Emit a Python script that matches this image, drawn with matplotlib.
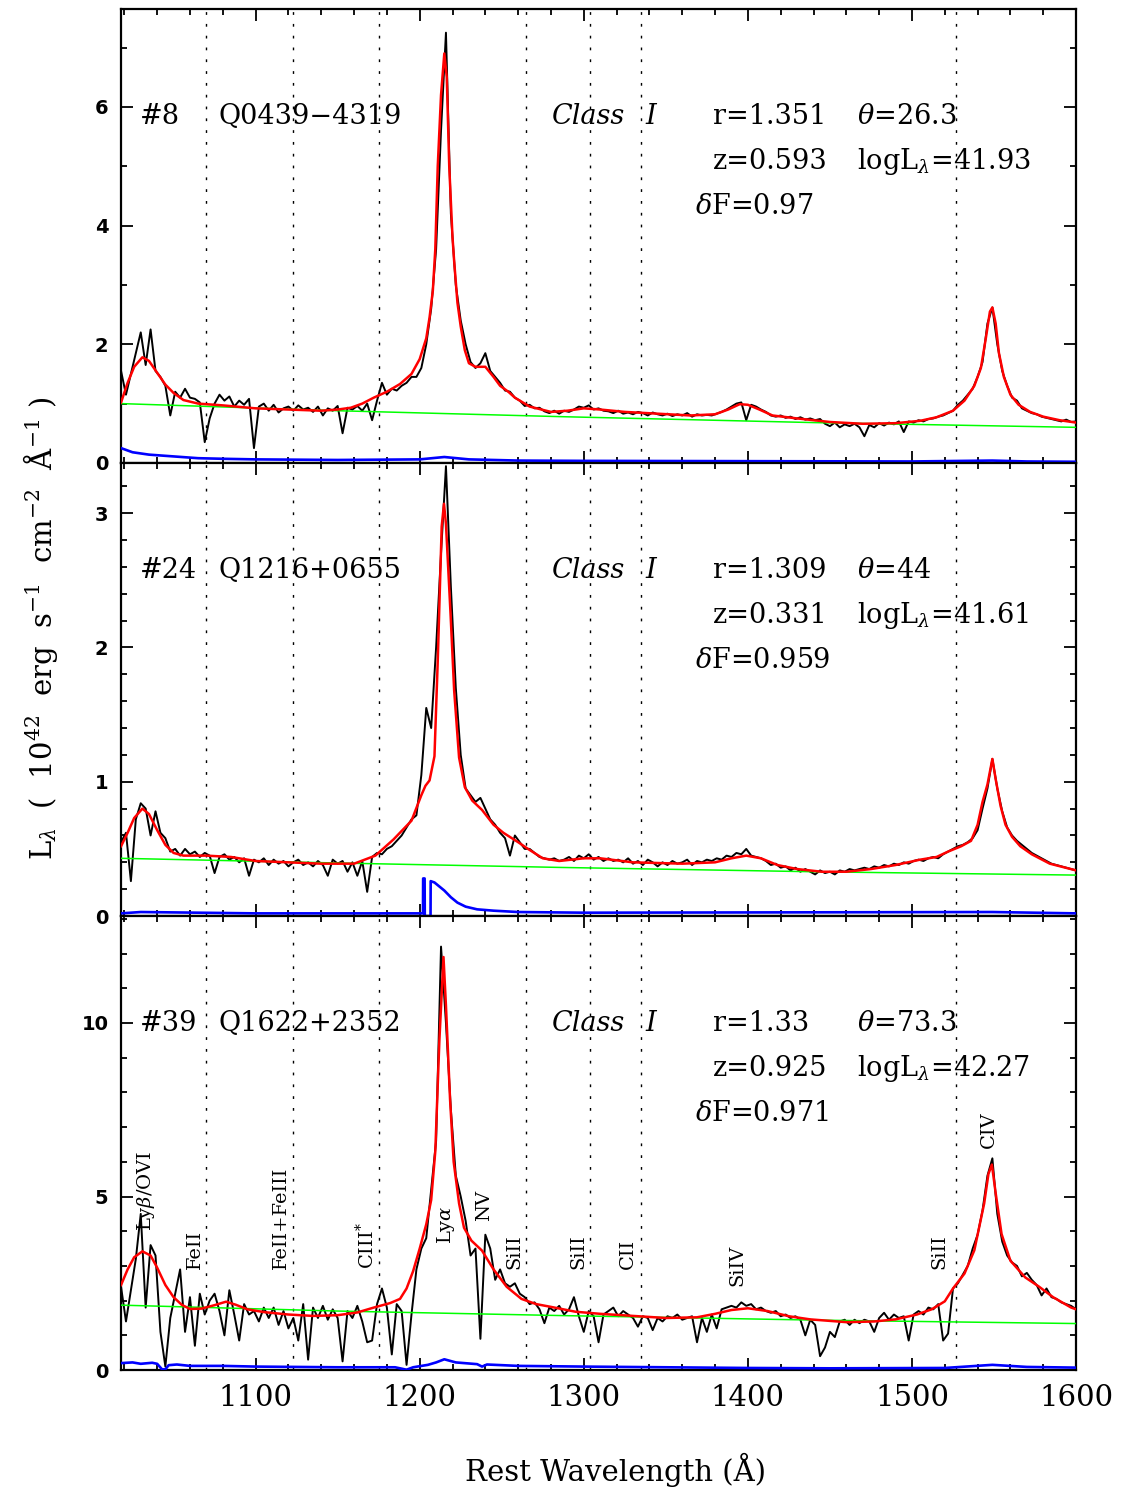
import numpy as np
import matplotlib
matplotlib.use("Agg")
import matplotlib.pyplot as plt
from matplotlib.ticker import MultipleLocator

plt.rcParams['mathtext.fontset'] = 'dejavuserif'

# rest wavelength grid of the observed spectra (3 A bins)
wave = np.arange(1018, 1601, 3)

# ---- #8  Q0439-4319 ----
flux_8 = [
    1.55, 1.15, 1.5, 1.85, 2.2, 1.65, 2.25, 1.55, 1.45, 1.3,
    0.8, 1.2, 1.1, 1.25, 1.1, 1.08, 1.02, 0.35, 0.75, 1.0,
    1.15, 1.05, 1.12, 0.95, 1.05, 0.98, 1.08, 0.25, 0.95, 1.0,
    0.88, 0.98, 0.85, 0.92, 0.95, 0.88, 0.97, 0.9, 0.93, 0.86,
    0.95, 0.8, 0.92, 0.88, 0.96, 0.5, 0.93, 0.9, 0.96, 0.88,
    1.0, 0.72, 1.05, 1.35, 1.15, 1.25, 1.22, 1.3, 1.35, 1.45,
    1.45, 1.6, 2.0, 2.6, 3.6, 5.6, 7.25, 4.2, 3.0, 2.4,
    2.0, 1.7, 1.6, 1.68, 1.85, 1.55, 1.45, 1.35, 1.22, 1.2,
    1.1, 1.05, 0.96, 0.98, 0.92, 0.93, 0.87, 0.84, 0.88, 0.83,
    0.88, 0.86, 0.9, 0.95, 0.93, 0.97, 0.9, 0.92, 0.88, 0.87,
    0.84, 0.88, 0.83, 0.85, 0.82, 0.86, 0.84, 0.8, 0.85, 0.82,
    0.8, 0.83, 0.79, 0.82, 0.8, 0.84, 0.78, 0.82, 0.8, 0.81,
    0.8, 0.83, 0.86, 0.9, 0.95, 1.0, 1.02, 0.72, 0.98, 0.95,
    0.9, 0.86, 0.8, 0.78, 0.8, 0.76, 0.78, 0.74, 0.77, 0.73,
    0.75, 0.72, 0.74, 0.66, 0.62, 0.68, 0.6, 0.65, 0.62, 0.66,
    0.6, 0.45, 0.64, 0.6, 0.67, 0.63, 0.68, 0.65, 0.7, 0.52,
    0.7, 0.68, 0.72, 0.7, 0.74, 0.75, 0.78, 0.8, 0.84, 0.88,
    0.98, 1.05, 1.15, 1.25, 1.45, 1.7, 2.35, 2.62, 2.0, 1.55,
    1.3, 1.1, 1.05, 0.92, 0.88, 0.84, 0.82, 0.78, 0.76, 0.74,
    0.72, 0.7, 0.73, 0.69, 0.7]
w_fit_8 = [1018, 1022, 1026, 1031, 1035, 1040, 1045, 1050, 1056, 1065,
           1080, 1100, 1120, 1140, 1150, 1158, 1165, 1172, 1180, 1188,
           1195, 1200, 1204, 1206, 1208, 1209.5, 1211, 1213, 1215, 1216.5,
           1218, 1220, 1221, 1223, 1225, 1227.5, 1230, 1234, 1240, 1245,
           1249, 1254, 1258, 1267, 1280, 1290, 1300, 1310, 1325, 1345,
           1365, 1380, 1388, 1395, 1400, 1407, 1415, 1430, 1450, 1470,
           1490, 1505, 1515, 1525, 1532, 1538, 1542, 1545, 1547.5, 1549,
           1551, 1553, 1556, 1560, 1565, 1572, 1580, 1590, 1600]
f_fit_8 = [1.02, 1.35, 1.62, 1.78, 1.72, 1.52, 1.32, 1.18, 1.06, 1.0,
           0.97, 0.92, 0.9, 0.88, 0.9, 0.93, 1.0, 1.1, 1.2, 1.33,
           1.5, 1.75, 2.1, 2.45, 2.9, 3.6, 5.0, 6.2, 6.9, 6.5,
           5.0, 3.8, 3.4, 2.7, 2.3, 1.9, 1.68, 1.62, 1.62, 1.45,
           1.3, 1.2, 1.1, 0.95, 0.86, 0.88, 0.92, 0.9, 0.86, 0.83,
           0.8, 0.82, 0.9, 0.99, 0.98, 0.9, 0.8, 0.75, 0.69, 0.66,
           0.67, 0.71, 0.77, 0.88, 1.05, 1.3, 1.6, 2.1, 2.55, 2.62,
           2.35, 1.85, 1.45, 1.15, 0.98, 0.86, 0.78, 0.72, 0.68]
err_w_8 = [1018, 1025, 1035, 1045, 1055, 1065, 1080, 1100, 1150, 1200,
           1215, 1230, 1260, 1300, 1400, 1500, 1549, 1570, 1600]
err_8 = [0.25, 0.18, 0.14, 0.12, 0.1, 0.08, 0.07, 0.06, 0.05, 0.06,
         0.1, 0.06, 0.04, 0.035, 0.03, 0.025, 0.04, 0.025, 0.02]

# ---- #24  Q1216+0655 ----
flux_24 = [
    0.55, 0.62, 0.26, 0.72, 0.84, 0.8, 0.6, 0.78, 0.62, 0.58,
    0.48, 0.5, 0.45, 0.5, 0.46, 0.48, 0.44, 0.47, 0.45, 0.32,
    0.44, 0.46, 0.42, 0.44, 0.4, 0.43, 0.3, 0.42, 0.4, 0.43,
    0.38, 0.42, 0.39, 0.41, 0.37, 0.4, 0.42, 0.38, 0.4, 0.37,
    0.41, 0.38, 0.3, 0.42, 0.39, 0.41, 0.33, 0.4, 0.3, 0.41,
    0.18, 0.44, 0.47, 0.46, 0.5, 0.52, 0.56, 0.6, 0.66, 0.72,
    0.75, 1.05, 1.55, 1.4, 2.0, 2.7, 3.35, 2.45, 1.7, 1.2,
    0.95, 0.9, 0.85, 0.88, 0.8, 0.72, 0.68, 0.62, 0.58, 0.45,
    0.6, 0.55, 0.5, 0.5, 0.47, 0.44, 0.43, 0.42, 0.43, 0.41,
    0.42, 0.44, 0.41, 0.45, 0.43, 0.46, 0.42, 0.44, 0.41, 0.43,
    0.41, 0.42, 0.4, 0.43, 0.39, 0.41, 0.38, 0.42, 0.4, 0.37,
    0.4, 0.38, 0.41, 0.39, 0.4, 0.42, 0.38, 0.41, 0.4, 0.42,
    0.41, 0.43, 0.42, 0.45, 0.44, 0.47, 0.46, 0.5, 0.45, 0.44,
    0.43, 0.41, 0.38, 0.39, 0.36, 0.37, 0.34, 0.36, 0.33, 0.35,
    0.33, 0.31, 0.34, 0.32, 0.33, 0.31, 0.34, 0.33, 0.35, 0.34,
    0.35, 0.36, 0.35, 0.37, 0.36, 0.38, 0.37, 0.39, 0.38, 0.4,
    0.39, 0.41, 0.42, 0.41, 0.43, 0.44, 0.43, 0.46, 0.48, 0.5,
    0.52, 0.53, 0.55, 0.58, 0.64, 0.8, 0.95, 1.17, 0.95, 0.78,
    0.66, 0.6, 0.56, 0.53, 0.5, 0.47, 0.45, 0.43, 0.41, 0.39,
    0.38, 0.37, 0.36, 0.35, 0.34]
w_fit_24 = [1018, 1022, 1026, 1031, 1035, 1040, 1045, 1050, 1056, 1070,
            1085, 1100, 1120, 1140, 1160, 1173, 1184, 1195, 1201, 1203.5,
            1206, 1209, 1211, 1213.4, 1214.8, 1216, 1218.8, 1221, 1224, 1227.5,
            1232, 1238, 1245, 1251, 1260, 1266, 1275, 1285, 1300, 1310,
            1330, 1360, 1380, 1390, 1399, 1408, 1418, 1430, 1445, 1460,
            1475, 1490, 1505, 1515, 1522, 1530, 1536, 1540, 1543, 1546,
            1549, 1551, 1554, 1557, 1561, 1566, 1573, 1584, 1600]
f_fit_24 = [0.52, 0.62, 0.73, 0.8, 0.76, 0.64, 0.53, 0.47, 0.45, 0.45,
            0.44, 0.41, 0.4, 0.39, 0.39, 0.45, 0.57, 0.71, 0.9, 0.97,
            1.01, 1.19, 1.9, 2.9, 3.07, 2.92, 2.25, 1.68, 1.18, 0.96,
            0.86, 0.79, 0.68, 0.62, 0.55, 0.5, 0.43, 0.41, 0.43, 0.43,
            0.4, 0.39, 0.4, 0.43, 0.45, 0.43, 0.38, 0.35, 0.33, 0.33,
            0.35, 0.38, 0.42, 0.44, 0.48, 0.52, 0.56, 0.68, 0.85, 0.98,
            1.17, 1.02, 0.82, 0.68, 0.59, 0.52, 0.46, 0.39, 0.34]
err_w_24 = [1018, 1030, 1100, 1200, 1202, 1202.1, 1203, 1203.1, 1206.6, 1206.7,
            1209, 1212, 1215, 1219, 1223, 1228, 1235, 1245, 1260, 1300,
            1549, 1600]
err_24 = [0.02, 0.03, 0.02, 0.02, 0.02, 0.28, 0.28, 0.0, 0.0, 0.26,
          0.25, 0.22, 0.19, 0.14, 0.1, 0.07, 0.05, 0.04, 0.03, 0.025,
          0.03, 0.02]

# ---- #39  Q1622+2352 ----
flux_39 = [
    2.4, 1.4, 2.3, 3.2, 4.5, 1.8, 3.6, 3.3, 1.1, 0.1,
    1.5, 2.2, 2.9, 1.1, 2.1, 0.7, 2.2, 1.6, 2.0, 2.2,
    1.7, 1.0, 2.3, 1.6, 0.85, 1.9, 1.6, 1.7, 1.4, 1.8,
    1.5, 1.8, 1.3, 1.7, 1.2, 1.5, 0.85, 1.9, 0.3, 1.8,
    1.5, 1.85, 1.45, 1.75, 1.5, 0.25, 1.7, 1.5, 1.85, 1.4,
    0.8, 0.85, 1.9, 2.35, 1.8, 0.45, 1.9, 1.7, 0.15, 1.6,
    2.9, 3.5, 3.8, 5.2, 6.6, 12.2, 10.0, 7.5, 5.6, 5.0,
    4.3, 3.3, 3.5, 0.9, 3.9, 3.5, 2.6, 2.9, 2.5, 2.4,
    2.5, 2.2, 2.1, 1.9, 1.95, 1.75, 1.35, 1.8, 1.7, 1.85,
    1.6, 1.75, 2.1, 1.55, 1.1, 1.7, 1.55, 0.8, 1.6, 1.7,
    1.8, 1.55, 1.7, 1.6, 1.5, 1.25, 1.55, 1.5, 1.15, 1.5,
    1.4, 1.55, 1.5, 1.6, 1.45, 1.5, 1.55, 0.8, 1.5, 1.1,
    1.6, 1.2, 1.75, 1.8, 1.85, 1.8, 1.95, 1.85, 1.9, 1.75,
    1.8, 1.7, 1.65, 1.7, 1.55, 1.6, 1.5, 1.55, 1.45, 1.0,
    1.45, 1.3, 0.4, 0.65, 1.1, 0.95, 1.4, 1.45, 1.3, 1.45,
    1.35, 1.45, 1.4, 1.1, 1.5, 1.65, 1.45, 1.6, 1.5, 1.55,
    0.85, 1.6, 1.7, 1.6, 1.8, 1.75, 1.9, 0.85, 1.05, 2.35,
    2.5, 2.75, 3.0, 3.5, 3.9, 4.6, 5.6, 6.1, 4.5, 3.7,
    3.3, 3.1, 3.0, 2.7, 2.8, 2.6, 2.45, 2.15, 2.35, 2.1,
    2.05, 1.95, 1.9, 1.85, 1.75]
w_fit_39 = [1018, 1022, 1026, 1031, 1036, 1040, 1045, 1050, 1055, 1060,
            1067, 1075, 1082, 1088, 1095, 1105, 1120, 1135, 1150, 1162,
            1172, 1182, 1188, 1192, 1196, 1200, 1204, 1207, 1209.5, 1212,
            1214.5, 1216, 1218.5, 1220.7, 1224, 1227, 1231.5, 1238, 1245, 1253,
            1262, 1271, 1280, 1295, 1310, 1330, 1350, 1369, 1380, 1390,
            1400, 1412, 1425, 1438, 1460, 1477, 1490, 1503, 1512, 1520,
            1525, 1532, 1538, 1544, 1546.6, 1548.7, 1551, 1554.6, 1560, 1569,
            1577.5, 1586, 1597, 1600]
f_fit_39 = [2.45, 2.9, 3.25, 3.42, 3.3, 2.95, 2.45, 2.1, 1.88, 1.76,
            1.77, 1.87, 1.97, 1.88, 1.75, 1.67, 1.6, 1.56, 1.58, 1.66,
            1.8, 1.93, 2.05, 2.35, 2.85, 3.5, 4.2, 4.9, 6.3, 9.5,
            11.9, 10.5, 7.8, 6.0, 4.8, 4.1, 3.73, 3.44, 2.9, 2.4,
            2.05, 1.9, 1.82, 1.68, 1.62, 1.56, 1.5, 1.52, 1.62, 1.73,
            1.78, 1.7, 1.55, 1.46, 1.38, 1.4, 1.46, 1.6, 1.75, 1.98,
            2.35, 2.78, 3.45, 4.8, 5.65, 5.92, 5.1, 3.92, 3.15, 2.67,
            2.4, 2.1, 1.8, 1.75]
err_w_39 = [1018, 1025, 1030, 1037, 1040, 1043, 1045, 1047, 1052, 1060,
            1080, 1100, 1150, 1185, 1192, 1196, 1205, 1210, 1215, 1222,
            1235, 1238, 1241, 1260, 1300, 1400, 1450, 1520, 1549, 1570, 1600]
err_39 = [0.2, 0.22, 0.18, 0.21, 0.18, 0.02, 0.02, 0.14, 0.16, 0.12,
          0.12, 0.1, 0.08, 0.08, 0.01, 0.08, 0.15, 0.22, 0.31, 0.22,
          0.17, 0.1, 0.16, 0.12, 0.1, 0.06, 0.05, 0.06, 0.15, 0.09, 0.07]

# power-law continuum
cont_w = [1018, 1150, 1286, 1440, 1600]
cont_8 = [1.0, 0.88, 0.78, 0.68, 0.6]
cont_24 = [0.43, 0.395, 0.362, 0.33, 0.305]
cont_39 = [1.87, 1.7, 1.57, 1.44, 1.34]

# dotted reference lines and line identifications
ref_lines = [1070, 1123, 1175, 1265, 1304, 1335, 1527]
id_labels = [r'Ly$\beta$/OVI', 'FeII', 'FeII+FeIII', r'CIII$^{*}$', r'Ly$\alpha$', 'NV',
             'SiII', 'SiII', 'CII', 'SiIV', 'SiII', 'CIV']
id_wave = [1033, 1063, 1115.5, 1167.5, 1216, 1239, 1258, 1297, 1327, 1393.5, 1517, 1547]
id_y = [4.02, 2.92, 2.92, 2.92, 3.64, 4.3, 2.92, 2.92, 2.92, 2.43, 2.92, 6.39]

names = ['#8', '#24', '#39']
objects = ['Q0439\u22124319', 'Q1216+0655', 'Q1622+2352']
r_vals = ['1.351', '1.309', '1.33']
theta_vals = ['26.3', '44', '73.3']
z_vals = ['0.593', '0.331', '0.925']
logl_vals = ['41.93', '41.61', '42.27']
df_vals = ['0.97', '0.959', '0.971']

fluxes = [flux_8, flux_24, flux_39]
fits = [(w_fit_8, f_fit_8), (w_fit_24, f_fit_24), (w_fit_39, f_fit_39)]
errs = [(err_w_8, err_8), (err_w_24, err_24), (err_w_39, err_39)]
conts = [cont_8, cont_24, cont_39]
ytops = [7.65, 3.373, 13.08]
ymajor = [2, 1, 5]
yminor = [1, 0.2, 1]

fig = plt.figure(figsize=(11.25, 14.9), dpi=100)
rects = [[0.1076, 0.6893, 0.8489, 0.3047],
         [0.1076, 0.3852, 0.8489, 0.3040],
         [0.1076, 0.0805, 0.8489, 0.3047]]

serif = 'DejaVu Serif'
for i in range(3):
    ax = fig.add_axes(rects[i])
    ax.plot(wave, fluxes[i], color='black', lw=1.4, zorder=3)
    ax.plot(cont_w, conts[i], color='#00ff00', lw=1.1, zorder=4)
    ax.plot(fits[i][0], fits[i][1], color='red', lw=1.8, zorder=5)
    ax.plot(errs[i][0], errs[i][1], color='blue', lw=1.9, zorder=5)
    for x in ref_lines:
        ax.axvline(x, color='black', lw=1.0, ls=(0, (2, 6.5)), zorder=1)

    ax.set_xlim(1018, 1600)
    ax.set_ylim(0, ytops[i])
    ax.xaxis.set_major_locator(MultipleLocator(100))
    ax.xaxis.set_minor_locator(MultipleLocator(20))
    yt = np.arange(0, ytops[i], ymajor[i])
    ax.set_yticks(yt, labels=['%g' % v for v in yt], fontsize=14,
                  fontweight='bold', family='DejaVu Sans')
    ax.yaxis.set_minor_locator(MultipleLocator(yminor[i]))
    ax.tick_params(which='both', direction='in', top=True, right=True, width=1.3)
    ax.tick_params(which='major', length=8.5)
    ax.tick_params(which='minor', length=4.5)
    ax.tick_params(axis='y', pad=9)
    for s in ax.spines.values():
        s.set_linewidth(1.6)
    if i < 2:
        ax.tick_params(labelbottom=False)
    else:
        ax.tick_params(axis='x', pad=10)
        for lbl in ax.get_xticklabels():
            lbl.set_fontsize(21)
            lbl.set_family(serif)

    tr = ax.transAxes
    rows = [0.7467, 0.6476, 0.5485]
    kw = dict(transform=tr, fontsize=19.5, family=serif, va='baseline', zorder=6)
    ax.text(0.0199, rows[0], names[i], **kw)
    ax.text(0.1016, rows[0], objects[i], **kw)
    ax.text(0.4513, rows[0], 'Class', style='italic', **kw)
    ax.text(0.5487, rows[0], 'I', style='italic', **kw)
    ax.text(0.6199, rows[0], 'r=' + r_vals[i], **kw)
    ax.text(0.7707, rows[0], r'$\theta$=' + theta_vals[i], **kw)
    ax.text(0.6199, rows[1], 'z=' + z_vals[i], **kw)
    ax.text(0.7707, rows[1], r'logL$_{\lambda}$=' + logl_vals[i], **kw)
    ax.text(0.6010, rows[2], r'$\delta$F=' + df_vals[i], **kw)

    if i == 2:
        for s, xw, yv in zip(id_labels, id_wave, id_y):
            ax.text(xw, yv, s, rotation=90, ha='center', va='bottom',
                    fontsize=14, family=serif, zorder=6)

fig.text(0.547, 0.0134, 'Rest Wavelength (Å)', ha='center', va='center',
         fontsize=21, family=serif)
fig.text(0.0356, 0.578,
         r'L$_{\lambda}$  (  10$^{42}$  erg  s$^{-1}$  cm$^{-2}$  Å$^{-1}$ )',
         rotation=90, ha='center', va='center', fontsize=21, family=serif)

fig.savefig('out.png', dpi=100)
